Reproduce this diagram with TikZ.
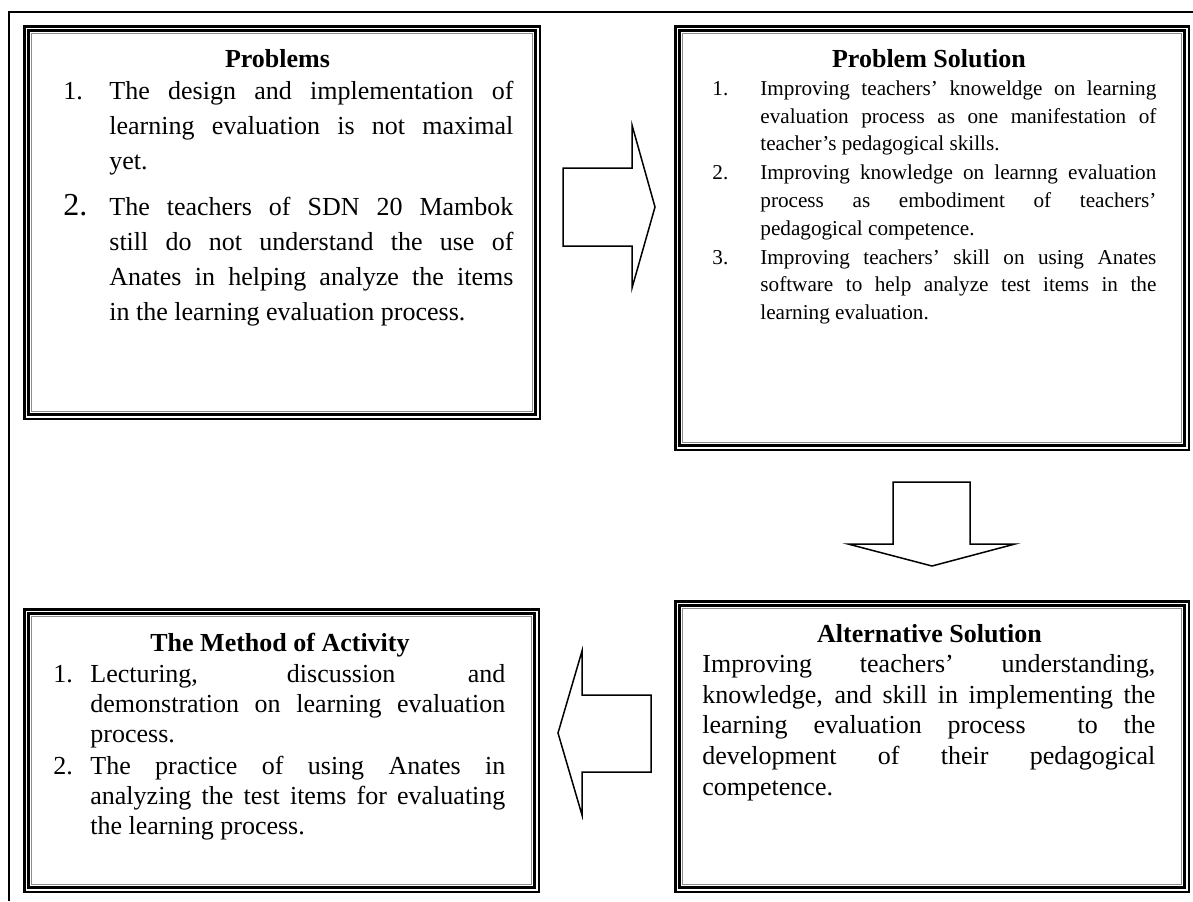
\documentclass[tikz,border=0pt]{standalone}
\usepackage{fontspec}
\setmainfont{Liberation Serif}
\usepackage{tikz}

\begin{document}
\begin{tikzpicture}[x=0.5pt, y=-0.5pt,
                    panel/.style={rectangle, draw, line width=1.25pt, inner sep=0pt},
                    heading/.style={anchor=base, inner sep=0pt,
                                    font=\fontsize{13}{15}\selectfont\bfseries},
                    body/.style={anchor=north west, inner sep=0pt, align=justify},
                    blockarrow/.style={draw, line width=0.75pt, line join=miter}]

                      \useasboundingbox (0,0) rectangle (1193,901);
                      \draw[line width=0.6pt] (9,901) -- (9,12) -- (1193,12);

                      \node[panel, minimum width=257.75pt, minimum height=196.25pt] (prob) at (282,222.5) {};
                      \node[panel, minimum width=256.75pt, minimum height=211.75pt] (sol) at (932,238) {};
                      \node[panel, minimum width=257.25pt, minimum height=141.25pt] (meth) at (281.5,750.5) {};
                      \node[panel, minimum width=256.75pt, minimum height=145.25pt] (alt) at (932,746.5) {};

                      \foreach \b in {prob, sol, meth, alt} {
                              \draw[line width=1.5pt] ([shift={(5.25,5.25)}]\b.north west) rectangle ([shift={(-5.25,-5.25)}]\b.south east);
                              \draw[line width=0.5pt, black!45] ([shift={(8.25,8.25)}]\b.north west) rectangle ([shift={(-8.25,-8.25)}]\b.south east);
                          }

                      \node[heading] (probT) at (277.5,67) {Problems};
                      \node[body, text width=225pt, font=\fontsize{13}{17.5}\selectfont] (probL) at (63,74.5) {%
                        \hangindent=23pt\hangafter=1\makebox[23pt][l]{\strut 1.}The design and implementation of\linebreak
                        learning evaluation is not maximal\linebreak yet.\par
                        \vspace{5.5pt}
                        \hangindent=23pt\hangafter=1\makebox[23pt][l]{\fontsize{16}{17.5}\selectfont 2.}The teachers of SDN 20 Mambok\linebreak
                        still do not understand the use of\linebreak
                        Anates in helping analyze the items\linebreak
                        in the learning evaluation process.\par};

                      \node[heading] (solT) at (929,67) {Problem Solution};
                      \node[body, text width=222pt, font=\fontsize{10.6}{13.9}\selectfont] (solL) at (712,75.5) {%
                        \hangindent=24pt\hangafter=1\makebox[24pt][l]{\strut 1.}Improving teachers' knoweldge on learning\linebreak
                        evaluation process as one manifestation of\linebreak
                        teacher's pedagogical skills.\par
                        \vspace{0.5pt}
                        \hangindent=24pt\hangafter=1\makebox[24pt][l]{2.}Improving knowledge on learnng evaluation\linebreak
                        process as embodiment of teachers'\linebreak
                        pedagogical competence.\par
                        \vspace{0.5pt}
                        \hangindent=24pt\hangafter=1\makebox[24pt][l]{3.}Improving teachers' skill on using Anates\linebreak
                        software to help analyze test items in the\linebreak
                        learning evaluation.\par};

                      \node[heading] (methT) at (280,651) {The Method of Activity};
                      \node[body, text width=226pt, font=\fontsize{13}{15}\selectfont] (methL) at (53,661) {%
                        \hangindent=18.5pt\hangafter=1\makebox[18.5pt][l]{\strut 1.}Lecturing, discussion and\linebreak
                        demonstration on learning evaluation\linebreak
                        process.\par
                        \vspace{1pt}
                        \hangindent=18.5pt\hangafter=1\makebox[18.5pt][l]{2.}The practice of using Anates in\linebreak
                        analyzing the test items for evaluating\linebreak
                        the learning process.\par};

                      \node[heading] (altT) at (929.5,642) {Alternative Solution};
                      \node[body, text width=226.5pt, font=\fontsize{13}{15.4}\selectfont] (altL) at (702,650.4) {%
                        \strut Improving teachers' understanding,\linebreak
                        knowledge, and skill in implementing the\linebreak
                        learning evaluation process~ to the\linebreak
                        development of their pedagogical\linebreak
                        competence.\par};

                      \draw[blockarrow] (563,168) -- (632,168) -- (632,125) -- (655,207) -- (632,288) -- (632,246) -- (563,246) -- cycle;
                      \draw[blockarrow] (893,482) -- (970,482) -- (970,544) -- (1015,544) -- (932,566) -- (848,544) -- (893,544) -- cycle;
                      \draw[blockarrow] (651,695) -- (582,695) -- (582,651) -- (558,733) -- (582,815) -- (582,772) -- (651,772) -- cycle;
                  \end{tikzpicture}
\end{document}
